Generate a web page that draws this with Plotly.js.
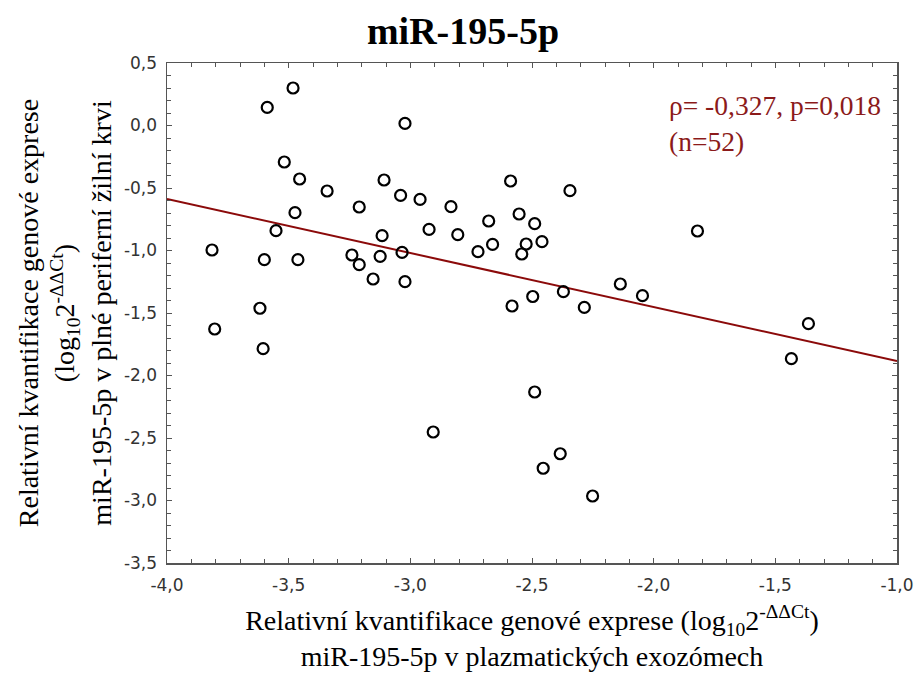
<!DOCTYPE html>
<html>
<head>
<meta charset="utf-8">
<script src="https://cdn.plot.ly/plotly-3.0.1.min.js"></script>
<style>html,body{margin:0;padding:0;background:#fff;}#chart{width:915px;height:677px;}</style>
</head>
<body>
<div id="chart"></div>
<script>
// Scatter data
const exoX = [-3.482, -3.588, -3.022, -3.518, -3.455, -3.342, -3.108, -3.040, -3.210, -3.474,
              -3.552, -3.116, -3.815, -3.600, -3.462, -3.240, -3.210, -3.124, -3.034, -3.153,
              -3.022, -3.618, -3.804, -3.605, -2.960, -2.833, -2.923, -2.805, -2.722, -2.678,
              -2.662, -2.588, -2.553, -2.489, -2.524, -2.542, -2.459, -2.344, -2.137, -2.046,
              -2.371, -2.497, -2.582, -2.285, -2.489, -2.906, -2.384, -2.454, -2.251, -1.820,
              -1.364, -1.434];
const bloodY = [0.300, 0.145, 0.017, -0.292, -0.428, -0.524, -0.436, -0.559, -0.652, -0.697,
                -0.841, -0.881, -0.996, -1.073, -1.073, -1.036, -1.113, -1.047, -1.015, -1.228,
                -1.249, -1.462, -1.628, -1.785, -0.591, -0.649, -0.831, -0.873, -1.009, -0.764,
                -0.951, -0.444, -0.708, -0.785, -0.948, -1.028, -0.929, -0.521, -1.268, -1.361,
                -1.329, -1.368, -1.444, -1.455, -2.132, -2.452, -2.626, -2.742, -2.964, -0.844,
                -1.585, -1.865];
// Regression line end points
const fitX = [-4.0, -1.0];
const fitY = [-0.588, -1.884];

const xTickVals = [-4.0, -3.5, -3.0, -2.5, -2.0, -1.5, -1.0];
const xTickText = ['-4,0', '-3,5', '-3,0', '-2,5', '-2,0', '-1,5', '-1,0'];
const yTickVals = [0.5, 0.0, -0.5, -1.0, -1.5, -2.0, -2.5, -3.0, -3.5];
const yTickText = ['0,5', '0,0', '-0,5', '-1,0', '-1,5', '-2,0', '-2,5', '-3,0', '-3,5'];

const titleText = 'miR-195-5p';
const statText = 'ρ= -0,327, p=0,018<br>(n=52)';
const xTitle = 'Relativní kvantifikace genové exprese (log<sub>10</sub>2<sup>-ΔΔCt</sup>)<br>miR-195-5p v plazmatických exozómech';
const yTitle = 'Relativní kvantifikace genové exprese<br>(log<sub>10</sub>2<sup>-ΔΔCt</sup>)<br>miR-195-5p v plné periferní žilní krvi';

const serif = 'Liberation Serif, Times New Roman, serif';
const sans = 'DejaVu Sans, Arial, sans-serif';

const traces = [
  {
    x: fitX, y: fitY, type: 'scatter', mode: 'lines',
    line: {color: '#8b0a0a', width: 2}, hoverinfo: 'skip', showlegend: false
  },
  {
    x: exoX, y: bloodY, type: 'scatter', mode: 'markers',
    marker: {symbol: 'circle-open', size: 11, color: '#000', line: {color: '#000', width: 2.2}},
    showlegend: false
  }
];

const axisCommon = {
  showgrid: false, zeroline: false, showline: true, linecolor: '#555', linewidth: 1.5,
  mirror: 'allticks', ticks: 'inside', ticklen: 5, tickcolor: '#555', tickwidth: 1,
  tickfont: {family: sans, size: 17, color: '#333'}, tickmode: 'array'
};

const layout = {
  width: 915, height: 677,
  margin: {l: 167, r: 18, t: 63, b: 114},
  paper_bgcolor: '#fff', plot_bgcolor: '#fff',
  title: {text: '<b>' + titleText + '</b>', font: {family: serif, size: 38, color: '#000'},
          x: 0.506, xanchor: 'center', y: 0.955, yanchor: 'middle'},
  xaxis: Object.assign({}, axisCommon, {
    range: [-4.0, -1.0], tickvals: xTickVals, ticktext: xTickText, ticklabelstandoff: 6,
    minor: {dtick: 0.1, tick0: -4, ticks: 'inside', ticklen: 4, tickcolor: '#555', showgrid: false},
    title: {text: xTitle, font: {family: serif, size: 28, color: '#000'}, standoff: 16}
  }),
  yaxis: Object.assign({}, axisCommon, {
    range: [-3.5, 0.5], tickvals: yTickVals, ticktext: yTickText, ticklabelstandoff: 5,
    minor: {dtick: 0.1, tick0: 0, ticks: 'inside', ticklen: 4, tickcolor: '#555', showgrid: false},
    title: {text: yTitle, font: {family: serif, size: 28, color: '#000'}, standoff: 4}
  }),
  annotations: [{
    text: statText, xref: 'paper', yref: 'paper', x: 0.685, y: 0.95,
    xanchor: 'left', yanchor: 'top', align: 'left', showarrow: false,
    font: {family: serif, size: 27.5, color: '#8b1a1a'}
  }]
};

Plotly.newPlot('chart', traces, layout, {staticPlot: true});
</script>
</body>
</html>
